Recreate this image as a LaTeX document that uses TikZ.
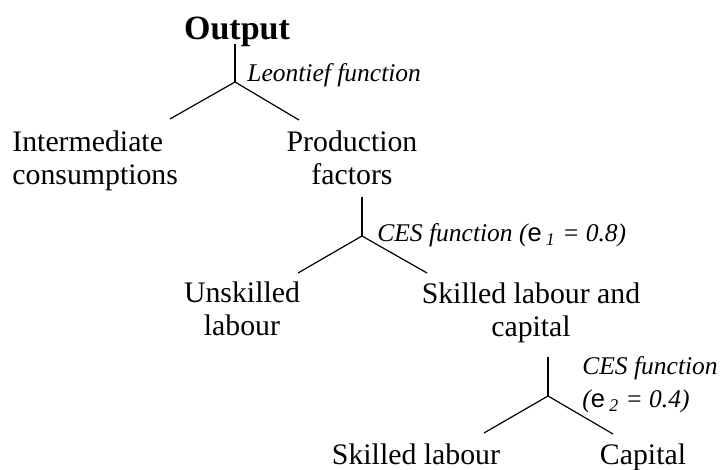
\documentclass[tikz,border=0pt]{standalone}
\usepackage{fontspec}
\setmainfont{Liberation Serif}
\setsansfont{Liberation Sans}

\tikzstyle{top}=[inner sep=0pt, anchor=base, font=\fontsize{17}{20}\selectfont\bfseries]
\tikzstyle{item}=[inner sep=0pt, anchor=base, align=center, font=\fontsize{14.9}{16.5}\selectfont]
\tikzstyle{itemleft}=[item, anchor=base west, align=left]
\tikzstyle{func}=[inner sep=0pt, anchor=base west, align=left, font=\fontsize{12.75}{16.5}\selectfont\itshape]
\tikzstyle{branch}=[line width=0.6pt]
\newcommand{\elast}[1]{{\upshape\sffamily e}\,\textsubscript{#1}}

\begin{document}
\begin{tikzpicture}[x=0.5pt, y=-0.5pt]
\useasboundingbox (0,0) rectangle (720,470);

% goods (base = last line)
\node(out)[top] at (237,40){Output};
\node(ic)[itemleft] at (12,185){Intermediate\\consumptions};
\node(pf)[item] at (352,185){Production\\factors};
\node(ul)[item] at (242,336){Unskilled\\labour};
\node(slc)[item] at (531,337){Skilled labour and\\capital};
\node(sl)[item] at (416,465){Skilled labour};
\node(cap)[item] at (643,465){Capital};

% functions
\node(leon)[func] at (247,82){Leontief function};
\node(ces1)[func] at (377,242){CES function (\elast{1} = 0.8)};
\node(ces2)[func] at (582,408){CES function\\(\elast{2} = 0.4)};

% branch points
\coordinate(t0) at (235,44);
\coordinate(j0) at (235,82);
\coordinate(l0) at (170,119);
\coordinate(r0) at (299,120);
\coordinate(t1) at (362,197);
\coordinate(j1) at (362,236);
\coordinate(l1) at (298,273);
\coordinate(r1) at (427,273);
\coordinate(t2) at (548,357);
\coordinate(j2) at (548,396);
\coordinate(l2) at (484,433);
\coordinate(r2) at (613,434);

\draw[branch](t0)--(j0);
\draw[branch](l0)--(j0)--(r0);
\draw[branch](t1)--(j1);
\draw[branch](l1)--(j1)--(r1);
\draw[branch](t2)--(j2);
\draw[branch](l2)--(j2)--(r2);

\end{tikzpicture}
\end{document}
